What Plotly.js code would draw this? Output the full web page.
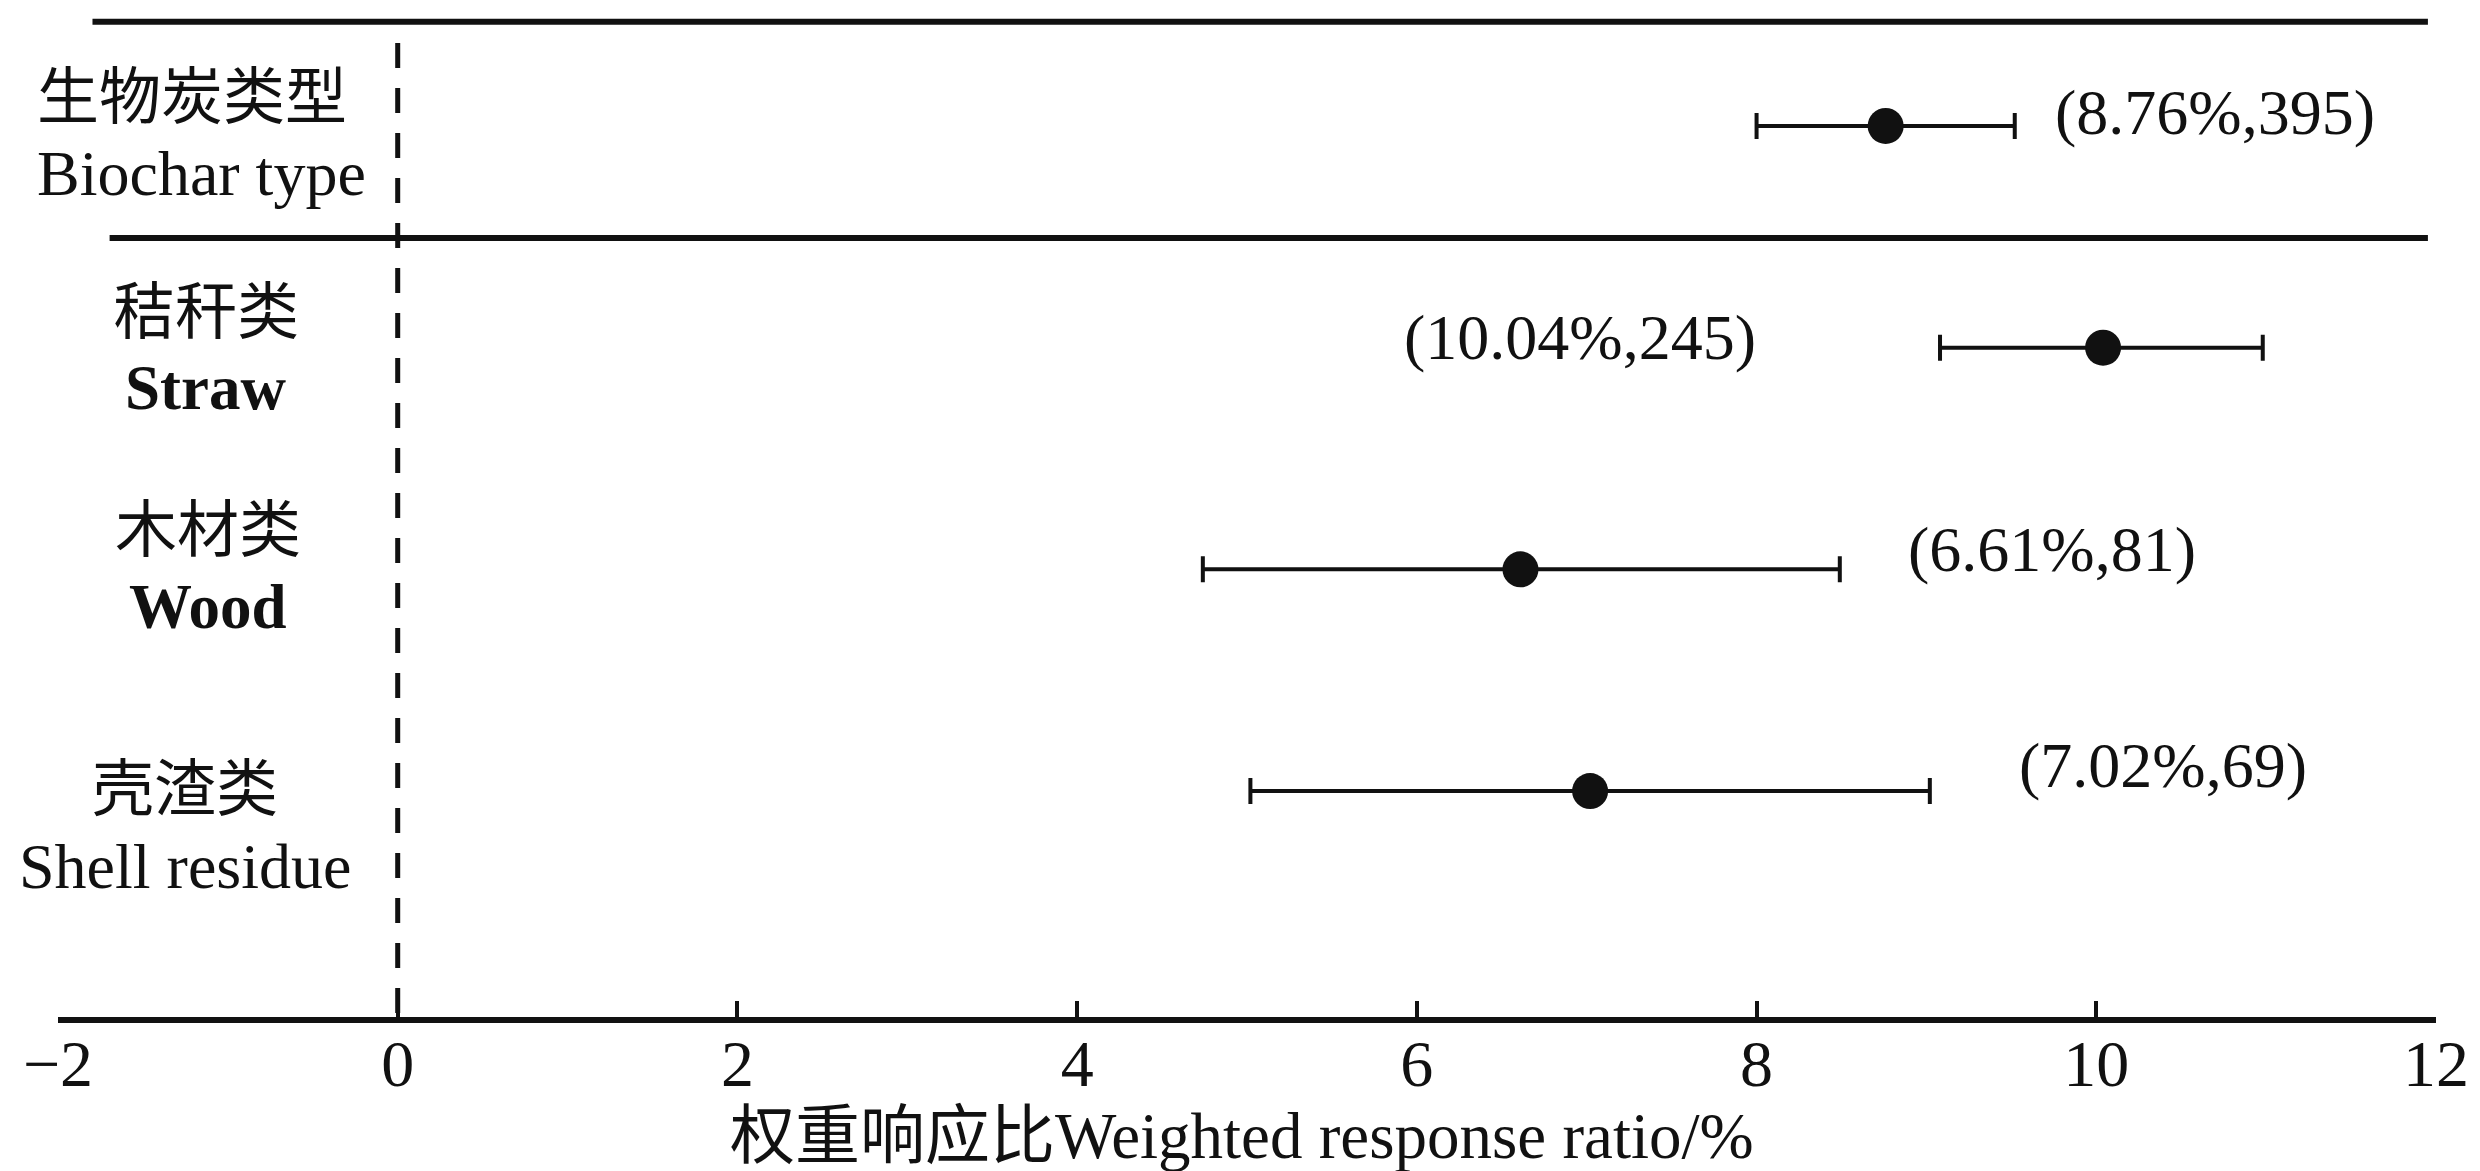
<!DOCTYPE html>
<html>
<head>
<meta charset="utf-8">
<script src="https://cdn.plot.ly/plotly-3.0.1.min.js"></script>
<style>html,body{margin:0;padding:0;background:#fff;}#chart{width:2480px;height:1171px;}</style>
</head>
<body>
<div id="chart"></div>
<script>
// ---- data ----
const catsCN = ['生物炭类型', '秸秆类', '木材类', '壳渣类'];
const catsEN = ['Biochar type', 'Straw', 'Wood', 'Shell residue'];
const ratio = [8.76, 10.04, 6.61, 7.02];
const ciLow = [8.00, 9.08, 4.74, 5.02];
const ciHigh = [9.52, 10.98, 8.49, 9.02];
const nObs = [395, 245, 81, 69];
const xTicks = [-2, 0, 2, 4, 6, 8, 10, 12];
const xTitle = '权重响应比Weighted response ratio/%';

// ---- styling / placement (not data) ----
const serif = 'Liberation Serif, Times New Roman, Noto Sans CJK SC, serif';
const ink = '#111111';
const catX = [-0.0098, 0.0622, 0.0631, 0.0534];           // paper units
const catAnchor = ['left', 'center', 'center', 'center'];
const cnShift = [28, 35, 38, 1];
const enShift = [-48, -40, -38, -75];
const enBold = [false, true, true, false];
const catSize = [64, 63, 63, 64];
const labSide = ['right', 'left', 'right', 'right'];
const labGap = [38, 182, 66, 87];
const labShift = [13, 10, 20, 26];

const trace = {
  type: 'scatter',
  mode: 'markers',
  x: ratio,
  y: catsEN,
  marker: {size: 36, color: ink, line: {width: 0}},
  error_x: {
    type: 'data',
    symmetric: false,
    array: ciHigh.map((h, i) => h - ratio[i]),
    arrayminus: ciLow.map((l, i) => ratio[i] - l),
    color: ink,
    thickness: 4,
    width: 13
  },
  hoverinfo: 'x+y',
  showlegend: false,
  cliponaxis: false
};

const annotations = [];
catsEN.forEach((c, i) => {
  annotations.push({
    x: catX[i], y: c, xref: 'paper', yref: 'y', showarrow: false,
    text: catsCN[i], xanchor: catAnchor[i], yshift: cnShift[i],
    font: {family: serif, size: 62, color: ink}
  });
  annotations.push({
    x: catX[i], y: c, xref: 'paper', yref: 'y', showarrow: false,
    text: enBold[i] ? '<b>' + catsEN[i] + '</b>' : catsEN[i],
    xanchor: catAnchor[i], yshift: enShift[i],
    font: {family: serif, size: catSize[i], color: ink}
  });
  const right = labSide[i] === 'right';
  annotations.push({
    x: right ? ciHigh[i] : ciLow[i], y: c, xref: 'x', yref: 'y', showarrow: false,
    text: '(' + ratio[i].toFixed(2) + '%,' + nObs[i] + ')',
    xanchor: right ? 'left' : 'right',
    xshift: right ? labGap[i] : -labGap[i],
    yshift: labShift[i],
    font: {family: serif, size: 64, color: ink}
  });
});
annotations.push({
  x: 0.4978, y: -0.117, xref: 'paper', yref: 'paper', showarrow: false,
  text: xTitle, xanchor: 'center', yanchor: 'middle',
  font: {family: serif, size: 65, color: ink}
});

const layout = {
  width: 2480, height: 1171,
  paper_bgcolor: '#fff', plot_bgcolor: '#fff',
  margin: {l: 58, r: 44, t: 0, b: 154},
  showlegend: false,
  xaxis: {
    range: [-2, 12],
    tickvals: xTicks,
    ticktext: xTicks.map(v => v < 0 ? '\u2212' + Math.abs(v) : String(v)),
    ticks: 'inside', ticklen: 16, tickwidth: 4, tickcolor: ink,
    showline: true, linewidth: 6, linecolor: ink,
    showgrid: false, zeroline: false,
    tickfont: {family: serif, size: 66, color: ink},
    ticklabelstandoff: -16,
    automargin: false,
    fixedrange: true
  },
  yaxis: {
    type: 'category',
    categoryorder: 'array',
    categoryarray: catsEN,
    range: [4.019, -0.568],
    showticklabels: false, ticks: '',
    showgrid: false, zeroline: false, showline: false,
    automargin: false,
    fixedrange: true
  },
  shapes: [
    {type: 'line', xref: 'paper', yref: 'y', x0: 0.0145, x1: 0.9966, y0: -0.470, y1: -0.470, line: {color: ink, width: 6}},
    {type: 'line', xref: 'paper', yref: 'y', x0: 0.0217, x1: 0.9966, y0: 0.505, y1: 0.505, line: {color: ink, width: 6}},
    {type: 'line', xref: 'x', yref: 'paper', x0: 0, x1: 0, y0: 0.004, y1: 0.9676, line: {color: ink, width: 5, dash: '25px,20px'}}
  ],
  annotations: annotations
};

Plotly.newPlot('chart', [trace], layout, {displayModeBar: false, staticPlot: true});
</script>
</body>
</html>
